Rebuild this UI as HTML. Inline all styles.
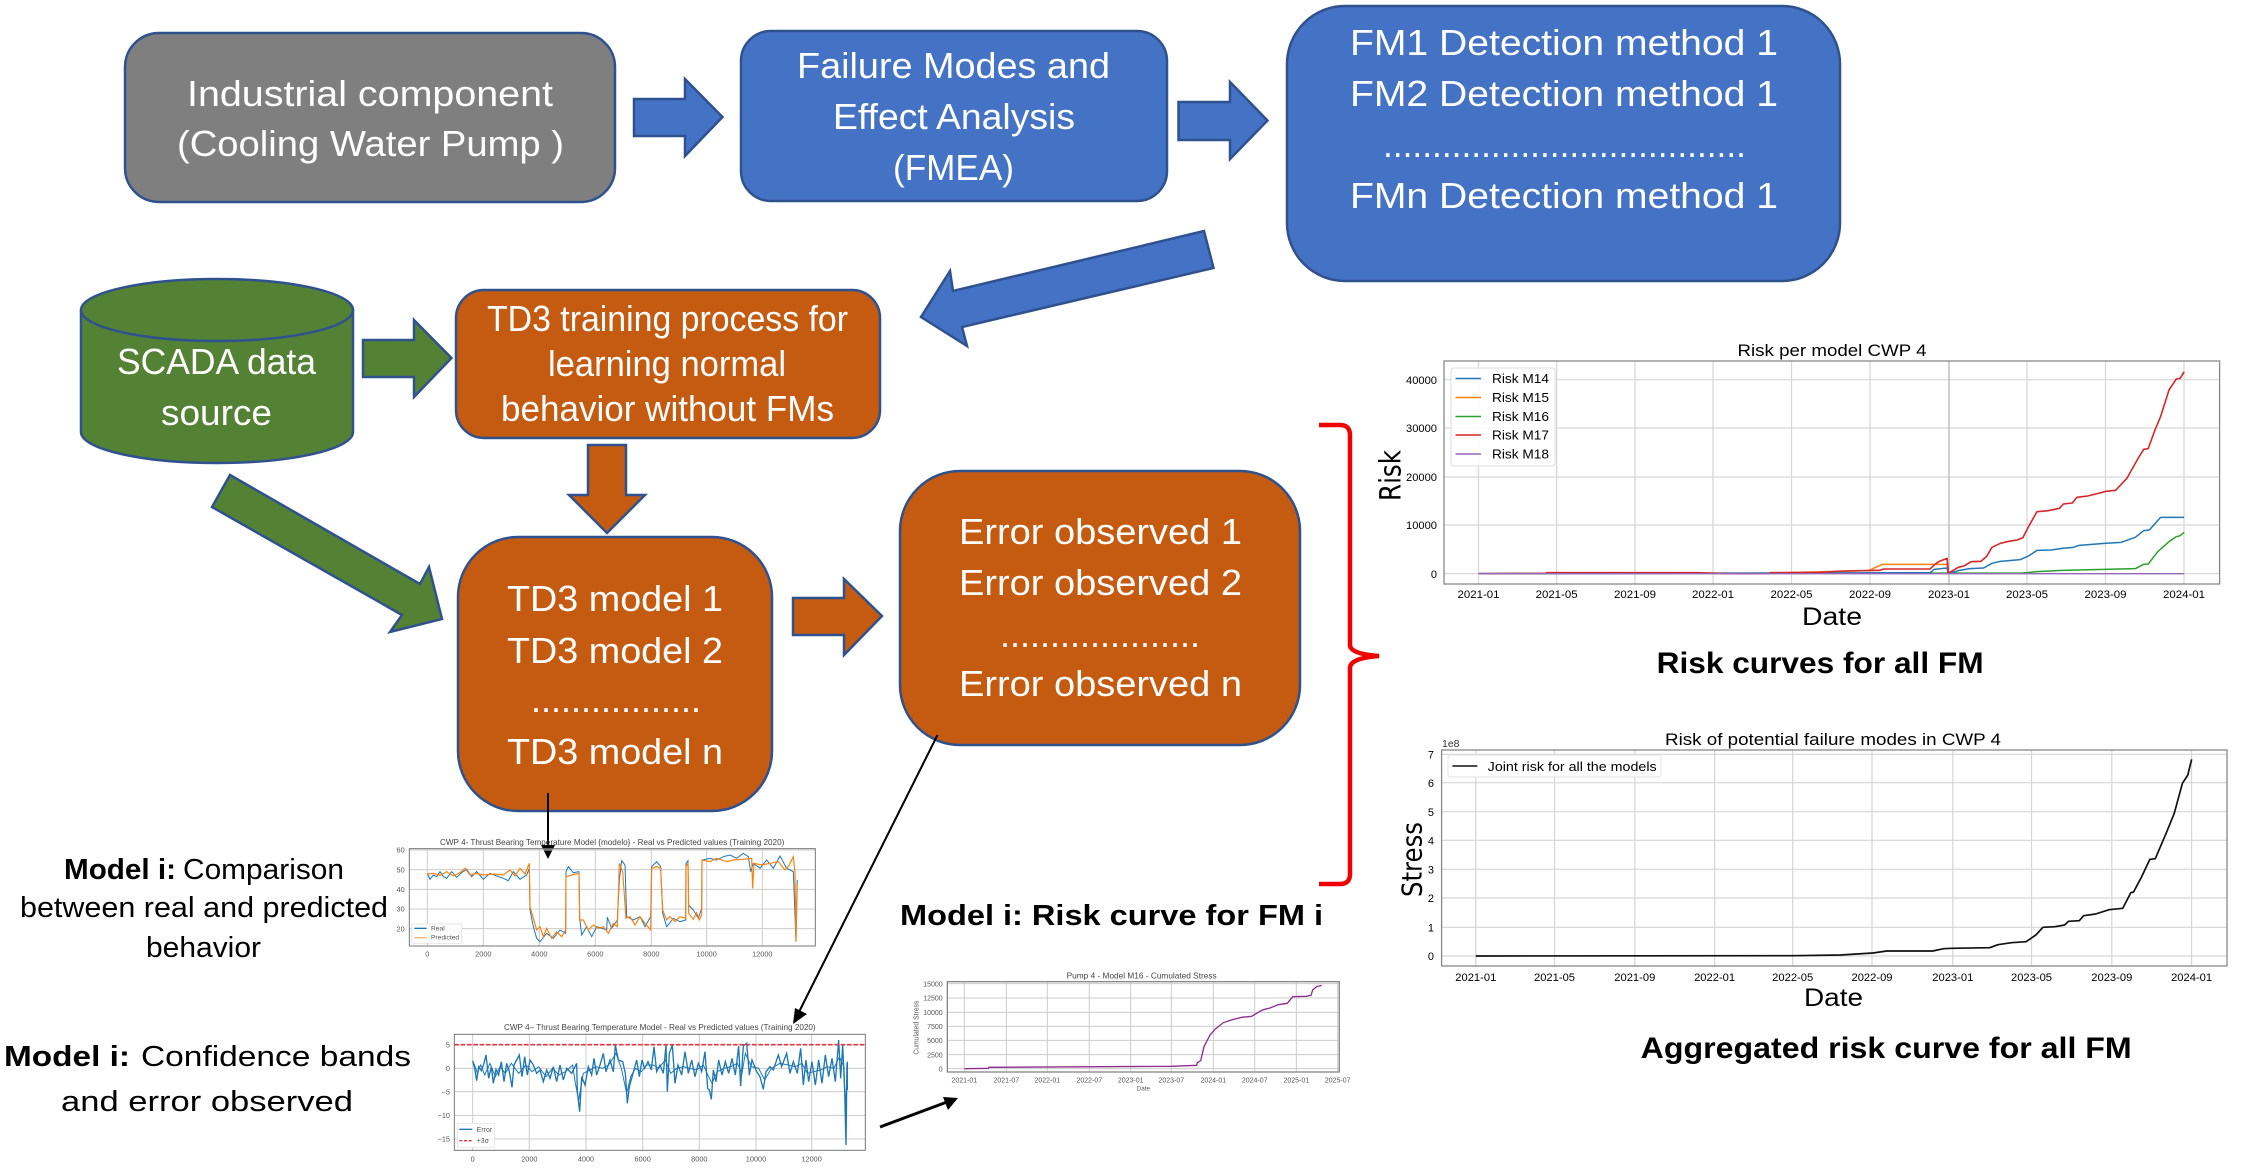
<!DOCTYPE html>
<html><head><meta charset="utf-8"><style>
html,body{margin:0;padding:0;background:#fff;width:2241px;height:1175px;overflow:hidden}
svg{display:block;filter:blur(.35px)}
text{font-family:"Liberation Sans",sans-serif;fill:#000}
.w{fill:#fff;font-size:36px}
.l{font-size:29px}
.b{font-size:29px;font-weight:700}
.t{font-size:11px;fill:#222}
.g{stroke:#d6d6d6;stroke-width:1.2;fill:none}
.c{fill:none;stroke-linejoin:round;vector-effect:non-scaling-stroke}
.s{stroke:#2f528f;stroke-width:2.5}
</style></head><body>
<svg width="2241" height="1175" viewBox="0 0 2241 1175" xmlns="http://www.w3.org/2000/svg">
<defs><filter id="bl"><feGaussianBlur stdDeviation="0.6"/></filter></defs>

<!-- Top row -->
<rect class="s" x="125" y="33" width="490" height="169" rx="34" fill="#7f7f7f"/>
<text class="w" x="187" y="106" textLength="366" lengthAdjust="spacingAndGlyphs">Industrial component</text>
<text class="w" x="177" y="156" textLength="387" lengthAdjust="spacingAndGlyphs">(Cooling Water Pump )</text>
<polygon class="s" fill="#4472c4" points="634,99 685,99 685,79 722.5,117 685,156 685,136 634,136"/>
<rect class="s" x="741" y="31" width="426" height="170" rx="30" fill="#4472c4"/>
<text class="w" x="797" y="78" textLength="313" lengthAdjust="spacingAndGlyphs">Failure Modes and</text>
<text class="w" x="833" y="129" textLength="242" lengthAdjust="spacingAndGlyphs">Effect Analysis</text>
<text class="w" x="893" y="180" textLength="121" lengthAdjust="spacingAndGlyphs">(FMEA)</text>
<polygon class="s" fill="#4472c4" points="1178.5,102 1230,102 1230,82 1267.5,120.5 1230,159 1230,140 1178.5,140"/>
<rect class="s" x="1287" y="6" width="553" height="275" rx="58" fill="#4472c4"/>
<text class="w" x="1350" y="55" textLength="428" lengthAdjust="spacingAndGlyphs">FM1 Detection method 1</text>
<text class="w" x="1350" y="106" textLength="428" lengthAdjust="spacingAndGlyphs">FM2 Detection method 1</text>
<text class="w" x="1383" y="157" textLength="363" lengthAdjust="spacingAndGlyphs">.....................................</text>
<text class="w" x="1350" y="208" textLength="428" lengthAdjust="spacingAndGlyphs">FMn Detection method 1</text>
<polygon class="s" fill="#4472c4" points="1204,231 1213.5,268 962,327 967,346 921,317 950,271 953,291"/>

<!-- Middle row -->
<path class="s" fill="#548235" d="M81 310 A136 31 0 0 1 353 310 V432 A136 31 0 0 1 81 432 Z"/>
<path class="s" fill="none" d="M81 310 A136 31 0 0 0 353 310"/>
<text class="w" x="117" y="374" textLength="199" lengthAdjust="spacingAndGlyphs">SCADA data</text>
<text class="w" x="161" y="425" textLength="111" lengthAdjust="spacingAndGlyphs">source</text>
<polygon class="s" fill="#548235" points="363,340 414,340 414,320 451.5,358 414,397 414,377 363,377"/>
<rect class="s" x="456" y="290" width="424" height="148" rx="28" fill="#c55a11"/>
<text class="w" x="487" y="331" textLength="361" lengthAdjust="spacingAndGlyphs">TD3 training process for</text>
<text class="w" x="548" y="376" textLength="238" lengthAdjust="spacingAndGlyphs">learning normal</text>
<text class="w" x="501" y="421" textLength="333" lengthAdjust="spacingAndGlyphs">behavior without FMs</text>
<polygon class="s" fill="#c55a11" points="588,445 626,445 626,495 645,495 607,533 569,495 588,495"/>
<polygon class="s" fill="#548235" points="230,475 420,584 429,567 442,619 390,632 402,615 212,507"/>
<rect class="s" x="458" y="537" width="314" height="274" rx="60" fill="#c55a11"/>
<text class="w" x="507" y="611" textLength="216" lengthAdjust="spacingAndGlyphs">TD3 model 1</text>
<text class="w" x="507" y="663" textLength="216" lengthAdjust="spacingAndGlyphs">TD3 model 2</text>
<text class="w" x="531" y="712" textLength="170" lengthAdjust="spacingAndGlyphs">.................</text>
<text class="w" x="507" y="764" textLength="216" lengthAdjust="spacingAndGlyphs">TD3 model n</text>
<polygon class="s" fill="#c55a11" points="793,598 844,598 844,579 882,616 844,655 844,635 793,635"/>
<rect class="s" x="900" y="471" width="400" height="274" rx="60" fill="#c55a11"/>
<text class="w" x="959" y="544" textLength="283" lengthAdjust="spacingAndGlyphs">Error observed 1</text>
<text class="w" x="959" y="595" textLength="283" lengthAdjust="spacingAndGlyphs">Error observed 2</text>
<text class="w" x="1000" y="647" textLength="200" lengthAdjust="spacingAndGlyphs">....................</text>
<text class="w" x="959" y="696" textLength="283" lengthAdjust="spacingAndGlyphs">Error observed n</text>

<!-- Red bracket -->
<path d="M1319 425 H1340 Q1350 425 1350 435 V645 Q1350 654 1379 656 Q1350 658 1350 668 V874 Q1350 884 1340 884 H1319" fill="none" stroke="#f00000" stroke-width="4.5"/>

<!-- Black connectors -->
<path d="M548 793 V848" stroke="#000" stroke-width="2" fill="none"/>
<polygon points="541,845 555,845 548,859" fill="#000"/>
<path d="M937.5 735 L799 1012" stroke="#000" stroke-width="2" fill="none"/>
<polygon points="793,1024 795,1008 807,1014" fill="#000"/>
<path d="M880 1127 L947 1102" stroke="#000" stroke-width="3" fill="none"/>
<polygon points="958,1098 943,1097 948,1110" fill="#000"/>

<!-- Left / center labels -->
<text class="b" x="64" y="879" textLength="112" lengthAdjust="spacingAndGlyphs">Model i:</text>
<text class="l" x="183" y="879" textLength="161" lengthAdjust="spacingAndGlyphs">Comparison</text>
<text class="l" x="20" y="917" textLength="368" lengthAdjust="spacingAndGlyphs">between real and predicted</text>
<text class="l" x="146" y="957" textLength="115" lengthAdjust="spacingAndGlyphs">behavior</text>
<text class="b" x="4" y="1066" textLength="126" lengthAdjust="spacingAndGlyphs">Model i:</text>
<text class="l" x="141" y="1066" textLength="270" lengthAdjust="spacingAndGlyphs">Confidence bands</text>
<text class="l" x="61" y="1111" textLength="292" lengthAdjust="spacingAndGlyphs">and error observed</text>
<text class="b" x="900" y="925" textLength="423" lengthAdjust="spacingAndGlyphs">Model i: Risk curve for FM i</text>

<!-- Small chart A -->
<g transform="translate(380,830) scale(.33333)" filter="url(#bl)">
<path d="M142 56V348M310 56V348M478 56V348M646 56V348M814 56V348M980 56V348M1147 56V348M88 60H1306M88 119H1306M88 178H1306M88 237H1306M88 296H1306" stroke="#ccc" stroke-width="3" fill="none"/>
<rect x="88" y="56" width="1218" height="292" fill="none" stroke="#777" stroke-width="3"/>
<polyline fill="none" stroke="#1f77b4" stroke-width="3" points="142,130 150,148 160,135 170,140 180,125 190,140 200,145 215,125 230,142 245,128 260,118 275,140 290,125 310,148 330,130 350,138 370,145 385,152 400,125 420,148 440,135 448,115 450,240 460,290 470,325 480,335 500,310 520,325 540,300 557,310 558,125 565,110 580,128 597,125 599,265 605,315 620,290 635,320 650,290 680,300 682,262 695,295 712,270 718,150 725,92 735,105 740,260 760,270 780,260 795,290 812,260 815,110 830,95 842,110 848,250 860,290 880,265 900,275 917,270 918,100 924,92 926,225 940,240 955,265 965,235 966,90 990,85 1010,90 1030,80 1050,75 1070,85 1090,70 1105,80 1112,125 1120,100 1140,115 1160,90 1180,115 1200,78 1220,115 1240,125 1248,335 1252,150"/>
<polyline fill="none" stroke="#ff7f0e" stroke-width="3.5" points="142,132 160,130 180,136 200,125 220,138 240,128 255,115 270,135 290,130 310,135 340,132 370,135 390,120 405,138 420,115 435,132 448,100 450,230 460,265 470,300 480,290 490,320 500,295 515,325 530,305 545,320 557,300 558,140 575,135 597,130 599,270 610,270 625,300 640,285 655,295 670,290 685,310 700,280 712,290 718,100 728,125 738,265 750,260 765,285 780,260 795,280 812,300 815,115 830,110 842,115 848,240 860,270 870,260 885,275 900,260 917,265 918,110 924,100 926,250 940,268 950,248 958,270 965,255 966,90 990,95 1010,85 1040,95 1060,90 1090,88 1115,85 1118,175 1122,100 1145,105 1170,100 1195,95 1215,120 1228,105 1240,80 1245,130 1248,335 1251,160"/>
<g font-size="22" text-anchor="middle">
<text x="142" y="380" style="fill:#555">0</text><text x="310" y="380" style="fill:#555">2000</text><text x="478" y="380" style="fill:#555">4000</text><text x="646" y="380" style="fill:#555">6000</text><text x="814" y="380" style="fill:#555">8000</text><text x="980" y="380" style="fill:#555">10000</text><text x="1147" y="380" style="fill:#555">12000</text></g>
<g font-size="22" text-anchor="end">
<text x="74" y="68" style="fill:#555">60</text><text x="74" y="127" style="fill:#555">50</text><text x="74" y="186" style="fill:#555">40</text><text x="74" y="245" style="fill:#555">30</text><text x="74" y="304" style="fill:#555">20</text></g>
<text x="180" y="45" font-size="26" textLength="1033" lengthAdjust="spacingAndGlyphs" style="fill:#444">CWP 4- Thrust Bearing Temperature Model  {modelo} - Real vs Predicted values (Training 2020)</text>
<rect x="95" y="282" width="150" height="58" rx="4" fill="#fff" stroke="#ddd" stroke-width="2"/>
<path d="M103 295H140" stroke="#1f77b4" stroke-width="4"/><path d="M103 323H140" stroke="#ffb27a" stroke-width="4"/>
<text x="153" y="302" font-size="20" style="fill:#555">Real</text><text x="153" y="329" font-size="20" style="fill:#555">Predicted</text>
</g>

<!-- Small chart B -->
<g transform="translate(440,1010) scale(.33333)" filter="url(#bl)">
<path d="M98 73V421M268 73V421M438 73V421M608 73V421M778 73V421M948 73V421M1115 73V421M43 175H1276M43 245H1276M43 316H1276M43 387H1276" stroke="#ccc" stroke-width="3" fill="none"/>
<rect x="43" y="73" width="1233" height="348" fill="none" stroke="#777" stroke-width="3"/>
<polyline fill="none" stroke="#1f77b4" stroke-width="4" points="98,152 104,175 110,212 116,170 124,182 132,160 138,135 146,205 154,170 160,220 168,178 176,195 184,155 192,215 200,160 208,185 216,232 222,165 230,150 238,135 246,200 254,140 262,195 270,150 280,165 290,190 300,180 310,215 320,180 330,205 340,170 350,215 360,165 370,210 380,175 395,190 410,160 412,245 419,305 425,200 435,225 445,170 455,195 462,145 470,195 480,165 490,130 498,185 510,150 520,185 526,105 535,150 548,155 556,190 562,280 568,230 575,205 582,180 590,150 598,200 606,150 614,175 624,155 634,180 642,110 650,185 660,165 670,190 678,105 682,245 688,130 697,105 705,220 714,165 725,195 735,125 745,190 755,150 765,200 775,160 785,185 795,125 803,235 808,240 814,268 820,180 828,215 836,150 846,195 856,155 866,190 876,145 886,195 896,108 902,228 910,108 920,100 928,195 936,150 950,185 960,200 970,238 978,185 990,170 1000,180 1015,135 1025,170 1040,130 1050,190 1060,155 1072,190 1082,115 1090,225 1098,150 1106,215 1116,155 1126,225 1136,150 1146,220 1156,135 1166,200 1176,145 1186,215 1196,90 1202,205 1208,105 1214,240 1218,405 1221,160 1222,240 1222,155"/>
<polyline fill="none" stroke="#1f77b4" stroke-width="3" points="102,160 112,190 122,165 134,195 150,160 166,200 180,170 196,190 214,160 236,190 258,165 276,185 296,170 318,200 338,175 356,195 376,185 398,165 406,220 416,270 430,190 450,180 468,170 488,175 506,165 528,130 544,175 560,250 572,200 586,175 604,185 620,165 640,165 656,175 676,150 692,190 710,175 730,170 750,175 770,180 790,165 806,200 816,220 832,185 852,175 872,170 892,160 906,190 916,130 934,170 956,175 974,210 994,175 1020,160 1044,165 1066,170 1086,160 1102,190 1122,185 1142,180 1162,170 1182,175 1198,140 1212,170 1216,300 1222,180"/>
<path d="M43 104H1276" stroke="#e8303a" stroke-width="5" stroke-dasharray="14 5" fill="none"/>
<g font-size="22" text-anchor="middle">
<text x="98" y="454" style="fill:#555">0</text><text x="268" y="454" style="fill:#555">2000</text><text x="438" y="454" style="fill:#555">4000</text><text x="608" y="454" style="fill:#555">6000</text><text x="778" y="454" style="fill:#555">8000</text><text x="948" y="454" style="fill:#555">10000</text><text x="1115" y="454" style="fill:#555">12000</text></g>
<g font-size="22" text-anchor="end">
<text x="30" y="112" style="fill:#555">5</text><text x="30" y="183" style="fill:#555">0</text><text x="30" y="253" style="fill:#555">−5</text><text x="30" y="324" style="fill:#555">−10</text><text x="30" y="395" style="fill:#555">−15</text></g>
<text x="192" y="60" font-size="26" textLength="935" lengthAdjust="spacingAndGlyphs" style="fill:#444">CWP 4– Thrust Bearing Temperature Model - Real vs Predicted values (Training 2020)</text>
<rect x="52" y="340" width="111" height="72" rx="4" fill="#fff" stroke="#ddd" stroke-width="2"/>
<path d="M58 358H97" stroke="#1f77b4" stroke-width="4"/><path d="M58 392H97" stroke="#e8303a" stroke-width="4" stroke-dasharray="9 5"/>
<text x="110" y="366" font-size="21" style="fill:#555">Error</text><text x="110" y="399" font-size="21" style="fill:#555">+3σ</text>
</g>

<!-- Small chart C -->
<g transform="translate(880,970) scale(.33333)" filter="url(#bl)">
<path d="M253 35V306M379 35V306M502 35V306M628 35V306M752 35V306M874 35V306M1000 35V306M1124 35V306M1249 35V306M1373 35V306M202 41H1378M202 84H1378M202 127H1378M202 169H1378M202 211H1378M202 254H1378M202 296H1378" stroke="#ccc" stroke-width="3" fill="none"/>
<rect x="202" y="35" width="1176" height="271" fill="none" stroke="#888" stroke-width="4"/>
<polyline fill="none" stroke="#8c2d90" stroke-width="4" points="253,296 325,295 327,292 875,289 950,286 952,278 962,272 972,230 990,195 1005,178 1030,158 1060,148 1085,142 1115,139 1135,127 1150,119 1170,114 1195,104 1222,100 1238,80 1280,79 1293,76 1298,60 1310,50 1325,46"/>
<g font-size="21" text-anchor="middle">
<text x="253" y="338" style="fill:#555">2021-01</text><text x="379" y="338" style="fill:#555">2021-07</text><text x="502" y="338" style="fill:#555">2022-01</text><text x="628" y="338" style="fill:#555">2022-07</text><text x="752" y="338" style="fill:#555">2023-01</text><text x="874" y="338" style="fill:#555">2023-07</text><text x="1000" y="338" style="fill:#555">2024-01</text><text x="1124" y="338" style="fill:#555">2024-07</text><text x="1249" y="338" style="fill:#555">2025-01</text><text x="1373" y="338" style="fill:#555">2025-07</text></g>
<g font-size="21" text-anchor="end">
<text x="188" y="49" style="fill:#555">15000</text><text x="188" y="92" style="fill:#555">12500</text><text x="188" y="135" style="fill:#555">10000</text><text x="188" y="177" style="fill:#555">7500</text><text x="188" y="219" style="fill:#555">5000</text><text x="188" y="262" style="fill:#555">2500</text><text x="188" y="304" style="fill:#555">0</text></g>
<text x="790" y="362" font-size="19" text-anchor="middle" style="fill:#555">Date</text>
<text transform="translate(116,254) rotate(-90)" font-size="21" textLength="162" lengthAdjust="spacingAndGlyphs" style="fill:#555">Cumulated Stress</text>
<text x="560" y="25" font-size="26" textLength="450" lengthAdjust="spacingAndGlyphs" style="fill:#444">Pump 4 - Model M16 - Cumulated Stress</text>
</g>

<!-- Chart 1 -->
<path class="g" d="M1478.5 361V584M1556.6 361V584M1635 361V584M1713 361V584M1791.5 361V584M1870 361V584M1949 361V584M2027 361V584M2105.5 361V584M2184 361V584M1444 379.7H2219.6M1444 428H2219.6M1444 477H2219.6M1444 525H2219.6M1444 573.7H2219.6"/>
<path d="M1949 361V584" stroke="#aaa" stroke-width="1"/>
<rect x="1444" y="361" width="775.6" height="223" fill="none" stroke="#888" stroke-width="1.3"/>
<g transform="translate(1360,330) scale(.5618,.33333)">
<polyline class="c" stroke="#ff7f0e" stroke-width="1.5" points="730,729 905,722 930,703 1045,703 1047,731"/>
<polyline class="c" stroke="#2ca02c" stroke-width="1.5" points="211,731 1180,729 1205,725 1250,721 1380,716 1395,703 1403,702 1420,665 1440,635 1453,620 1460,617 1467,607"/>
<polyline class="c" stroke="#1f77b4" stroke-width="1.5" points="211,731 1015,728 1022,718 1045,714 1047,731 1065,722 1085,716 1110,714 1125,700 1140,694 1175,689 1190,678 1205,661 1230,660 1250,655 1270,652 1280,646 1325,640 1355,637 1380,622 1395,602 1405,600 1425,562 1467,562"/>
<polyline class="c" stroke="#d62728" stroke-width="1.6" points="211,731 330,730 332,728 600,728 660,731 728,731 730,728 820,727 860,723 925,721 932,717 1015,717 1022,705 1030,695 1045,685 1047,730 1055,722 1065,712 1075,708 1088,695 1105,694 1115,680 1125,652 1140,640 1155,634 1170,630 1180,623 1190,590 1205,545 1225,542 1245,535 1252,522 1268,519 1276,502 1295,498 1310,492 1328,484 1345,481 1365,445 1385,385 1395,358 1403,356 1415,300 1425,260 1440,180 1453,147 1460,145 1467,125"/>
<polyline class="c" stroke="#9467bd" stroke-width="1.4" points="211,731 1467,731"/>
</g>
<rect x="1451" y="368" width="104" height="98" rx="3" fill="#fff" fill-opacity=".9" stroke="#ddd"/>
<path d="M1455.5 378.5H1481" stroke="#1f77b4" stroke-width="1.6"/><path d="M1455.5 397.5H1481" stroke="#ff7f0e" stroke-width="1.6"/><path d="M1455.5 416.5H1481" stroke="#2ca02c" stroke-width="1.6"/><path d="M1455.5 435H1481" stroke="#d62728" stroke-width="1.6"/><path d="M1455.5 454H1481" stroke="#9467bd" stroke-width="1.6"/>
<g font-size="12.5" >
<text x="1492" y="383" textLength="57" lengthAdjust="spacingAndGlyphs">Risk M14</text>
<text x="1492" y="402" textLength="57" lengthAdjust="spacingAndGlyphs">Risk M15</text>
<text x="1492" y="421" textLength="57" lengthAdjust="spacingAndGlyphs">Risk M16</text>
<text x="1492" y="439.5" textLength="57" lengthAdjust="spacingAndGlyphs">Risk M17</text>
<text x="1492" y="458.5" textLength="57" lengthAdjust="spacingAndGlyphs">Risk M18</text>
</g>
<text x="1737.5" y="356" font-size="17" textLength="189" lengthAdjust="spacingAndGlyphs">Risk per model CWP 4</text>
<g class="t" text-anchor="middle" font-size="11">
<text x="1478.5" y="598" textLength="42" lengthAdjust="spacingAndGlyphs">2021-01</text><text x="1556.6" y="598" textLength="42" lengthAdjust="spacingAndGlyphs">2021-05</text><text x="1635" y="598" textLength="42" lengthAdjust="spacingAndGlyphs">2021-09</text><text x="1713" y="598" textLength="42" lengthAdjust="spacingAndGlyphs">2022-01</text><text x="1791.5" y="598" textLength="42" lengthAdjust="spacingAndGlyphs">2022-05</text><text x="1870" y="598" textLength="42" lengthAdjust="spacingAndGlyphs">2022-09</text><text x="1949" y="598" textLength="42" lengthAdjust="spacingAndGlyphs">2023-01</text><text x="2027" y="598" textLength="42" lengthAdjust="spacingAndGlyphs">2023-05</text><text x="2105.5" y="598" textLength="42" lengthAdjust="spacingAndGlyphs">2023-09</text><text x="2184" y="598" textLength="42" lengthAdjust="spacingAndGlyphs">2024-01</text>
</g>
<g text-anchor="end" font-size="11">
<text x="1437" y="384" textLength="31" lengthAdjust="spacingAndGlyphs">40000</text><text x="1437" y="432" textLength="31" lengthAdjust="spacingAndGlyphs">30000</text><text x="1437" y="481" textLength="31" lengthAdjust="spacingAndGlyphs">20000</text><text x="1437" y="529" textLength="31" lengthAdjust="spacingAndGlyphs">10000</text><text x="1437" y="578">0</text>
</g>
<text x="1802" y="625" font-size="25" textLength="60" lengthAdjust="spacingAndGlyphs">Date</text>
<text transform="translate(1400.5,501) rotate(-90)" style="font-family:'DejaVu Sans',sans-serif" font-size="29" textLength="51" lengthAdjust="spacingAndGlyphs">Risk</text>
<text class="b" x="1656.6" y="673" style="font-size:30px" textLength="327" lengthAdjust="spacingAndGlyphs">Risk curves for all FM</text>

<!-- Chart 2 -->
<path class="g" d="M1475.8 750V966M1554.5 750V966M1634.8 750V966M1714.6 750V966M1792.7 750V966M1872 750V966M1952.8 750V966M2031.5 750V966M2111.8 750V966M2191.6 750V966M1441.6 754.3H2227M1441.6 782.7H2227M1441.6 811.7H2227M1441.6 840.3H2227M1441.6 869.3H2227M1441.6 898H2227M1441.6 927.3H2227M1441.6 956H2227"/>
<rect x="1441.6" y="750" width="785.4" height="216" fill="none" stroke="#888" stroke-width="1.3"/>
<g transform="translate(1390,720) scale(.54274,.33333)">
<polyline class="c" stroke="#111" stroke-width="1.7" points="158,708 742,707 830,705 890,699 915,693 1000,693 1020,686 1035,685 1105,683 1120,674 1145,668 1172,665 1190,645 1203,622 1225,620 1243,615 1250,604 1270,602 1278,587 1300,582 1325,569 1350,565 1365,518 1370,516 1385,470 1400,418 1410,416 1430,340 1445,280 1460,190 1470,165 1477,118"/>
</g>
<rect x="1448" y="755" width="213" height="22" rx="3" fill="#fff" fill-opacity=".9" stroke="#e2e2e2"/>
<path d="M1452.4 766H1477.4" stroke="#111" stroke-width="1.6"/>
<text x="1487.7" y="771" font-size="12.5" textLength="169" lengthAdjust="spacingAndGlyphs">Joint risk for all the models</text>
<text x="1665" y="745" font-size="17" textLength="336" lengthAdjust="spacingAndGlyphs">Risk of potential failure modes in CWP 4</text>
<text x="1442" y="747" font-size="10.5" style="fill:#333">1e8</text>
<g text-anchor="middle" font-size="11">
<text x="1475.8" y="981" textLength="41" lengthAdjust="spacingAndGlyphs">2021-01</text><text x="1554.5" y="981" textLength="41" lengthAdjust="spacingAndGlyphs">2021-05</text><text x="1634.8" y="981" textLength="41" lengthAdjust="spacingAndGlyphs">2021-09</text><text x="1714.6" y="981" textLength="41" lengthAdjust="spacingAndGlyphs">2022-01</text><text x="1792.7" y="981" textLength="41" lengthAdjust="spacingAndGlyphs">2022-05</text><text x="1872" y="981" textLength="41" lengthAdjust="spacingAndGlyphs">2022-09</text><text x="1952.8" y="981" textLength="41" lengthAdjust="spacingAndGlyphs">2023-01</text><text x="2031.5" y="981" textLength="41" lengthAdjust="spacingAndGlyphs">2023-05</text><text x="2111.8" y="981" textLength="41" lengthAdjust="spacingAndGlyphs">2023-09</text><text x="2191.6" y="981" textLength="41" lengthAdjust="spacingAndGlyphs">2024-01</text>
</g>
<g text-anchor="end" font-size="11">
<text x="1434" y="758.5">7</text><text x="1434" y="787">6</text><text x="1434" y="816">5</text><text x="1434" y="844.5">4</text><text x="1434" y="873.5">3</text><text x="1434" y="902">2</text><text x="1434" y="931.5">1</text><text x="1434" y="960">0</text>
</g>
<text x="1804" y="1006" font-size="25" textLength="59" lengthAdjust="spacingAndGlyphs">Date</text>
<text transform="translate(1421.5,897) rotate(-90)" style="font-family:'DejaVu Sans',sans-serif" font-size="28" textLength="75" lengthAdjust="spacingAndGlyphs">Stress</text>
<text class="b" x="1640.7" y="1058" style="font-size:30px" textLength="491" lengthAdjust="spacingAndGlyphs">Aggregated risk curve for all FM</text>
</svg>
</body></html>
